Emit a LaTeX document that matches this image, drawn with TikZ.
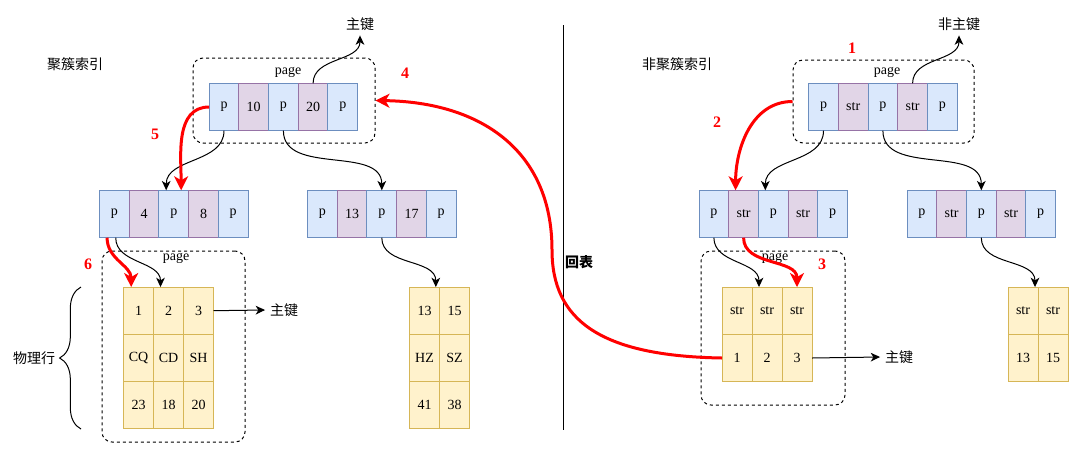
\documentclass[tikz,border=0pt]{standalone}
\usepackage{fontspec}
\setmainfont{Liberation Serif}
\newfontfamily\cjk{Noto Sans CJK SC}
\usetikzlibrary{arrows.meta,decorations.pathreplacing}

\tikzset{every picture/.style={line width=0.75pt}}
\tikzset{
  cellp/.style={draw={rgb, 255:red, 108; green, 142; blue, 191 }, fill={rgb, 255:red, 218; green, 232; blue, 252 }, minimum width=22.3pt, minimum height=35.6pt, inner sep=0pt, outer sep=0pt, font=\fontsize{10.5}{12}\selectfont},
  cellk/.style={cellp, draw={rgb, 255:red, 150; green, 115; blue, 166 }, fill={rgb, 255:red, 225; green, 213; blue, 231 }},
  cellr/.style={cellp, draw={rgb, 255:red, 214; green, 182; blue, 86 }, fill={rgb, 255:red, 255; green, 242; blue, 204 }, minimum width=22.5pt, minimum height=35.5pt},
  pagebox/.style={draw, dashed, dash pattern=on 2.25pt off 2.25pt, rounded corners=7.5pt, inner sep=0pt},
  pagelbl/.style={font=\fontsize{10.5}{12}\selectfont, inner sep=1pt},
  lbl/.style={font=\cjk\fontsize{10.5}{12}\selectfont},
  num/.style={text={rgb, 255:red, 255; green, 0; blue, 0 }, font=\bfseries\fontsize{12}{14}\selectfont},
  blk/.style={-{Stealth[length=7pt,width=6.5pt,inset=2pt]}},
  redarr/.style={draw={rgb, 255:red, 255; green, 0; blue, 0 }, line width=2.25pt, -{Stealth[length=10.5pt,width=10.5pt,inset=3pt]}}
}

\begin{document}
\begin{tikzpicture}[x=0.75pt,y=0.75pt,yscale=-1,xscale=1]
\useasboundingbox (0,0) rectangle (1080,454);

% pages
\node[pagebox, minimum width=136.5pt, minimum height=63.75pt] (pg1) at (284,100.5) {};
\node[pagebox, minimum width=107.25pt, minimum height=143.25pt] (pg2) at (173.5,346.5) {};
\node[pagebox, minimum width=135.75pt, minimum height=62.25pt] (pg3) at (883.5,101.5) {};
\node[pagebox, minimum width=108pt, minimum height=115.5pt] (pg4) at (773,328) {};
\node[pagelbl] (pl1) at (288,72) {page};
\node[pagelbl] (pl2) at (176,258) {page};
\node[pagelbl] (pl3) at (887,72) {page};
\node[pagelbl] (pl4) at (775,258) {page};

% clustered index
\node[cellp] (ca1) at (224,107) {p};
\node[cellk] (ca2) at (253.7,107) {10};
\node[cellp] (ca3) at (283.4,107) {p};
\node[cellk] (ca4) at (313.1,107) {20};
\node[cellp] (ca5) at (342.8,107) {p};

\node[cellp] (cb1) at (114.4,214) {p};
\node[cellk] (cb2) at (144.1,214) {4};
\node[cellp] (cb3) at (173.8,214) {p};
\node[cellk] (cb4) at (203.5,214) {8};
\node[cellp] (cb5) at (233.2,214) {p};

\node[cellp] (cc1) at (322.4,214) {p};
\node[cellk] (cc2) at (352.1,214) {13};
\node[cellp] (cc3) at (381.8,214) {p};
\node[cellk] (cc4) at (411.5,214) {17};
\node[cellp] (cc5) at (441.2,214) {p};

\node[cellr] (cd1) at (138.5,310.7) {1};
\node[cellr] (cd2) at (168.5,310.7) {2};
\node[cellr] (cd3) at (198.5,310.7) {3};
\node[cellr] (cd4) at (138.5,358) {CQ};
\node[cellr] (cd5) at (168.5,358) {CD};
\node[cellr] (cd6) at (198.5,358) {SH};
\node[cellr] (cd7) at (138.5,405.3) {23};
\node[cellr] (cd8) at (168.5,405.3) {18};
\node[cellr] (cd9) at (198.5,405.3) {20};

\node[cellr] (ce1) at (424.5,310.7) {13};
\node[cellr] (ce2) at (454.5,310.7) {15};
\node[cellr] (ce3) at (424.5,358) {HZ};
\node[cellr] (ce4) at (454.5,358) {SZ};
\node[cellr] (ce5) at (424.5,405.3) {41};
\node[cellr] (ce6) at (454.5,405.3) {38};

% non-clustered index
\node[cellp] (na1) at (823.5,107) {p};
\node[cellk] (na2) at (853.2,107) {str};
\node[cellp] (na3) at (882.9,107) {p};
\node[cellk] (na4) at (912.6,107) {str};
\node[cellp] (na5) at (942.3,107) {p};

\node[cellp] (nb1) at (713.9,214) {p};
\node[cellk] (nb2) at (743.6,214) {str};
\node[cellp] (nb3) at (773.3,214) {p};
\node[cellk] (nb4) at (803,214) {str};
\node[cellp] (nb5) at (832.7,214) {p};

\node[cellp] (nc1) at (921.9,214) {p};
\node[cellk] (nc2) at (951.6,214) {str};
\node[cellp] (nc3) at (981.3,214) {p};
\node[cellk] (nc4) at (1011,214) {str};
\node[cellp] (nc5) at (1040.7,214) {p};

\node[cellr] (nd1) at (737,310.7) {str};
\node[cellr] (nd2) at (767,310.7) {str};
\node[cellr] (nd3) at (797,310.7) {str};
\node[cellr] (nd4) at (737,358) {1};
\node[cellr] (nd5) at (767,358) {2};
\node[cellr] (nd6) at (797,358) {3};

\node[cellr] (ne1) at (1023,310.7) {str};
\node[cellr] (ne2) at (1053,310.7) {str};
\node[cellr] (ne3) at (1023,358) {13};
\node[cellr] (ne4) at (1053,358) {15};

% labels
\node[lbl] (t1) at (75,64) {聚簇索引};
\node[lbl] (t2) at (677,64) {非聚簇索引};
\node[lbl] (pk1) at (360,24) {主键};
\node[lbl] (npk) at (959,24) {非主键};
\node[lbl] (pk2) at (284,310) {主键};
\node[lbl] (pk3) at (899,357) {主键};
\node[lbl] (rows) at (34,358) {物理行};
\node[lbl, font=\cjk\bfseries\fontsize{10.5}{12}\selectfont] (back) at (579,262) {回表};

\node[num] (n1) at (852,48) {1};
\node[num] (n2) at (717,122) {2};
\node[num] (n3) at (822,264) {3};
\node[num] (n4) at (405,73) {4};
\node[num] (n5) at (155,134) {5};
\node[num] (n6) at (88,264) {6};

% separator and brace
\draw (563,25) -- (563,430);
\draw[decorate, decoration={brace, amplitude=16pt}] (81,429) -- (81,287);

% black connectors (yscale=-1: 90 points down)
\draw[blk] (ca4.north) to[out=-90,in=90] (pk1.south);
\draw[blk] (ca1.south) to[out=90,in=-90] ([xshift=-5.7pt]cb3.north);
\draw[blk] (ca3.south) to[out=90,in=-90] (cc3.north);
\draw[blk] ([xshift=1pt]cb1.south) to[out=90,in=-90] ([xshift=-6pt]cd2.north);
\draw[blk] (cc3.south) to[out=90,in=-90] ([xshift=8.5pt]ce1.north);
\draw[blk] (cd3.east) -- (pk2.west);

\draw[blk] (na4.north) to[out=-90,in=90] (npk.south);
\draw[blk] (na1.south) to[out=90,in=-90] ([xshift=-6pt]nb3.north);
\draw[blk] (na3.south) to[out=90,in=-90] (nc3.north);
\draw[blk] (nb1.south) to[out=90,in=-90] ([xshift=-6pt]nd2.north);
\draw[blk] (nc3.south) to[out=90,in=-90] ([xshift=9pt]ne1.north);
\draw[blk] (nd6.east) -- (pk3.west);

% red path
\draw[redarr] (pg3.west) to[out=180,in=-90] ([xshift=-6pt]nb2.north);
\draw[redarr] (nb2.south) to[out=90,in=-90] (nd3.north);
\draw[redarr] (nd4.west) .. controls (600,356) and (552,320) .. (552,250) .. controls (552,150) and (480,102) .. (pg1.east);
\draw[redarr] (ca1.west) to[out=180,in=-90] ([xshift=5.5pt]cb3.north);
\draw[redarr] ([xshift=-5.5pt]cb1.south) to[out=90,in=-90] ([xshift=-5.5pt]cd1.north);

\end{tikzpicture}
\end{document}
